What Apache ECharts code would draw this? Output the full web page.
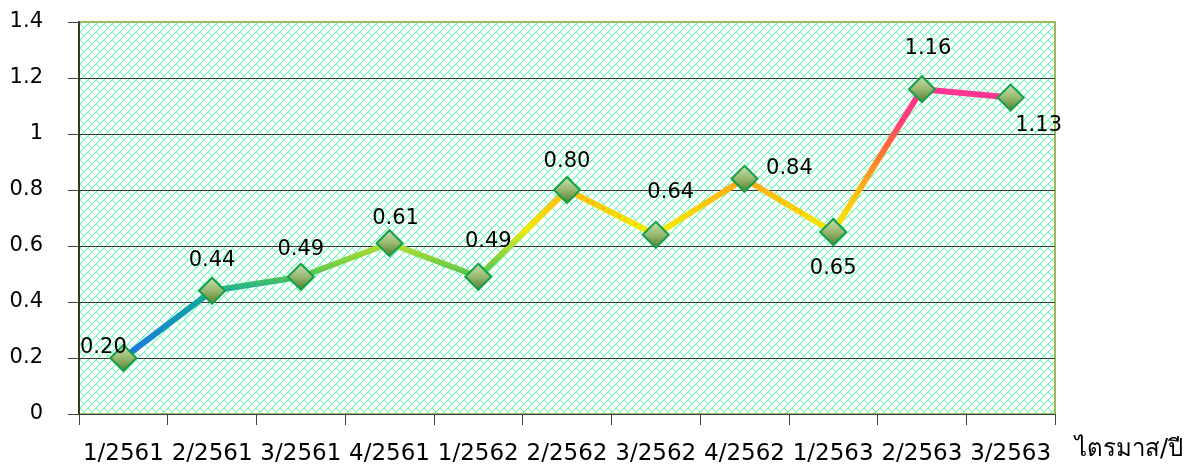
<!DOCTYPE html>
<html>
<head>
<meta charset="utf-8">
<script src="https://cdn.jsdelivr.net/npm/echarts@6/dist/echarts.min.js"></script>
<style>
  html, body { margin: 0; padding: 0; background: #fff; }
  #main { width: 1197px; height: 473px; }
</style>
</head>
<body>
<div id="main"></div>
<script>
// ข้อมูล
var quarters = ['1/2561', '2/2561', '3/2561', '4/2561', '1/2562', '2/2562', '3/2562', '4/2562', '1/2563', '2/2563', '3/2563'];
var values = [0.20, 0.44, 0.49, 0.61, 0.49, 0.80, 0.64, 0.84, 0.65, 1.16, 1.13];
var yTicks = [0, 0.2, 0.4, 0.6, 0.8, 1, 1.2, 1.4];

var FONT = 'Tahoma, "DejaVu Sans", "Noto Sans", sans-serif';

// ลายอิฐทแยง พื้นหลัง
function brickPattern () {
  var c = document.createElement('canvas');
  c.width = 8; c.height = 8;
  var ctx = c.getContext('2d');
  ctx.fillStyle = '#ffffff';
  ctx.fillRect(0, 0, 8, 8);
  // ขอบจาง ๆ รอบเส้น
  ctx.fillStyle = '#d2fde8';
  for (var k = 0; k < 8; k++) {
    ctx.fillRect(k, (8 - k) % 8, 1, 1);
  }
  ctx.fillStyle = '#62fbad';
  for (var i = 0; i < 8; i++) {
    ctx.fillRect(i, 7 - i, 1, 1); // เส้น /
  }
  for (var j = 0; j < 4; j++) {
    ctx.fillRect(j, j, 1, 1); // เส้นสั้น \
  }
  return c;
}

// ตำแหน่งป้ายแต่ละจุด
var labelPos = [
  { position: 'top', offset: [-20, 19] },
  { position: 'top', offset: [0, -1] },
  { position: 'top', offset: [0, 2] },
  { position: 'top', offset: [6, 5] },
  { position: 'top', offset: [10, -6] },
  { position: 'top', offset: [0, 1] },
  { position: 'top', offset: [15, -13] },
  { position: 'top', offset: [45, 19] },
  { position: 'bottom', offset: [0, 7] },
  { position: 'top', offset: [6, -11] },
  { position: 'bottom', offset: [28, -2] }
];

var myChart = echarts.init(document.getElementById('main'));

myChart.setOption({
  animation: false,
  grid: {
    left: 79,
    right: 142,
    top: 22,
    bottom: 59,
    show: true,
    backgroundColor: { image: brickPattern(), repeat: 'repeat' },
    borderColor: '#9bbb59',
    borderWidth: 2
  },
  xAxis: {
    type: 'category',
    data: quarters,
    boundaryGap: true,
    name: 'ไตรมาส/ปี',
    nameLocation: 'end',
    nameGap: 20,
    nameTextStyle: {
      fontFamily: FONT,
      fontSize: 24,
      color: '#000',
      verticalAlign: 'top',
      align: 'left',
      padding: [24, 0, 0, 0]
    },
    axisLine: { lineStyle: { color: '#404040', width: 1 } },
    axisTick: { show: true, length: 11, lineStyle: { color: '#404040' } },
    axisLabel: {
      interval: 0,
      margin: 29,
      fontFamily: FONT,
      fontSize: 23,
      color: '#000'
    }
  },
  yAxis: {
    type: 'value',
    min: yTicks[0],
    max: yTicks[yTicks.length - 1],
    interval: 0.2,
    axisLine: { show: true, lineStyle: { color: '#333d1a', width: 2 } },
    axisTick: { show: true, length: 11, lineStyle: { color: '#404040' } },
    axisLabel: {
      margin: 36,
      fontFamily: FONT,
      fontSize: 21,
      color: '#000'
    },
    splitLine: { show: true, showMaxLine: false, lineStyle: { color: '#3a3a3a', width: 1 } }
  },
  series: [
    {
      type: 'line',
      data: values.map(function (v, i) {
        return { value: v, label: labelPos[i] };
      }),
      symbol: 'diamond',
      symbolSize: 26,
      lineStyle: {
        width: 6,
        color: {
          type: 'linear', x: 0, y: 0, x2: 0, y2: 1,
          colorStops: [
            { offset: 0, color: '#ff3399' },
            { offset: 0.12, color: '#ff3d7a' },
            { offset: 0.22, color: '#ff6a3a' },
            { offset: 0.33, color: '#ffa020' },
            { offset: 0.40, color: '#ffc010' },
            { offset: 0.52, color: '#f5ea00' },
            { offset: 0.57, color: '#b8e030' },
            { offset: 0.68, color: '#5cc84c' },
            { offset: 0.74, color: '#22b090' },
            { offset: 0.80, color: '#10a0aa' },
            { offset: 1, color: '#2070e8' }
          ]
        }
      },
      itemStyle: {
        color: {
          type: 'linear', x: 0, y: 0, x2: 0, y2: 1,
          colorStops: [
            { offset: 0, color: '#cfe2b4' },
            { offset: 0.5, color: '#98b870' },
            { offset: 1, color: '#4f7a2a' }
          ]
        },
        borderColor: '#12a048',
        borderWidth: 2
      },
      label: {
        show: true,
        fontFamily: FONT,
        fontSize: 21,
        color: '#000',
        formatter: function (p) { return p.value.toFixed(2); }
      },
      z: 3
    }
  ]
});
window.addEventListener('resize', function () { myChart.resize(); });
</script>
</body>
</html>
